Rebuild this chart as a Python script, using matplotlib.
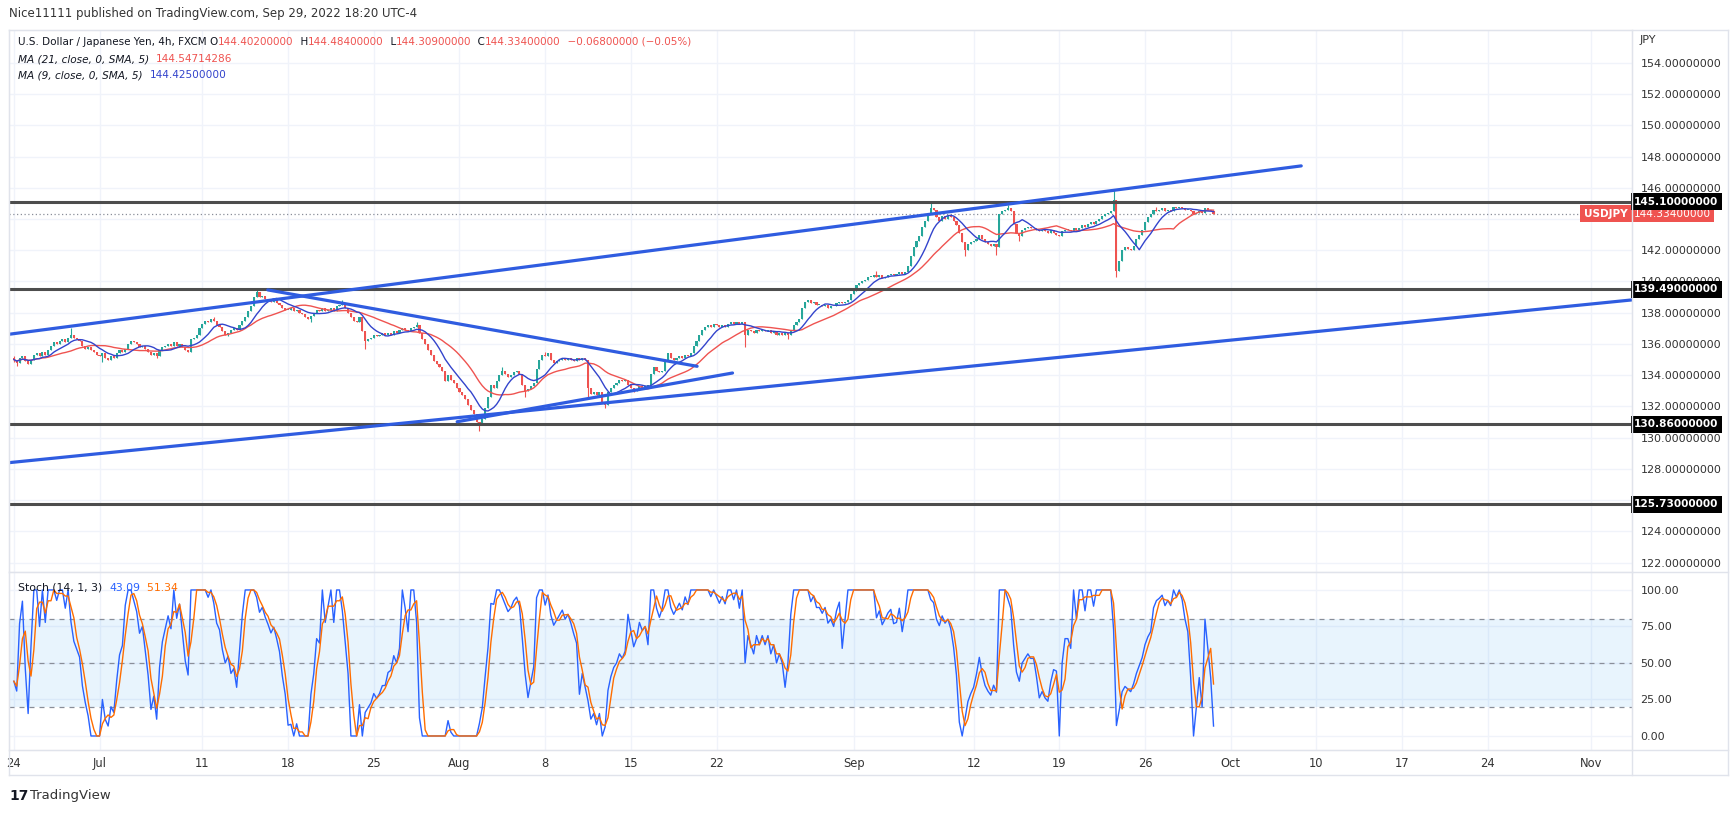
import numpy as np
import pandas as pd
import matplotlib
matplotlib.use('Agg')
import matplotlib.pyplot as plt
from matplotlib.lines import Line2D
from matplotlib.text import Annotation

# USDJPY 4h closes, one per bar (Jun 24 .. Sep 29 2022)
close = [
    135.0, 134.8, 135.1, 135.2, 134.9, 134.7, 135.0, 135.3, 135.4, 135.2,
    135.5, 135.3, 135.6, 135.9, 136.1, 136.0, 136.2, 136.3, 136.1, 136.4,
    136.6, 136.4, 136.3, 136.2, 135.9, 135.7, 135.8, 135.6, 135.5, 135.3,
    135.2, 135.4, 135.1, 135.0, 135.2, 135.1, 135.4, 135.6, 135.5, 135.7,
    136.0, 136.2, 136.1, 136.0, 135.8, 135.9, 135.7, 135.5, 135.3, 135.4,
    135.2, 135.6, 135.8, 135.9, 136.0, 135.9, 136.1, 135.9, 136.0, 135.8,
    135.6, 135.5, 136.3, 136.4, 136.6, 137.0, 137.3, 137.5, 137.4, 137.6,
    137.5, 137.2, 137.1, 136.8, 136.6, 136.7, 136.9, 137.0, 136.9, 137.2,
    137.5, 137.7, 138.1, 138.4, 139.0, 139.3, 139.0, 139.1, 138.9, 138.8,
    138.7, 138.8, 138.6, 138.5, 138.3, 138.2, 138.2, 138.3, 138.1, 138.2,
    138.0, 137.9, 137.7, 137.6, 137.8, 138.0, 138.2, 138.1, 138.3, 138.1,
    138.2, 138.3, 138.1, 138.4, 138.5, 138.6, 138.3, 138.0, 137.7, 137.5,
    137.4, 137.7, 136.8, 136.2, 136.3, 136.4, 136.6, 136.5, 136.6, 136.7,
    136.6, 136.7, 136.6, 136.8, 136.7, 136.9, 137.0, 136.9, 136.8, 137.0,
    137.1, 137.2, 136.7, 136.3, 136.0, 135.6, 135.3, 134.9, 134.7, 134.5,
    134.3, 133.6, 134.0, 133.7, 133.5, 133.2, 132.9, 132.7, 132.5, 132.1,
    131.8, 131.5, 131.0, 130.8, 131.2, 131.9, 132.6, 133.4, 133.2, 133.6,
    134.0, 134.3, 134.1, 133.9, 134.0, 134.2, 134.3, 134.1, 133.4, 133.0,
    133.1, 133.3, 133.5, 134.4, 135.0, 135.3, 135.2, 135.4, 135.0, 134.8,
    134.9, 135.0, 135.1, 135.0, 135.1, 135.0, 134.9, 135.1, 135.0, 135.1,
    135.0, 133.2, 132.8, 132.9, 132.7, 132.9, 132.3, 132.1, 132.9, 133.2,
    133.4, 133.5, 133.7, 133.6, 133.7, 133.4, 133.2, 133.0, 133.1, 133.3,
    133.2, 133.3, 133.4, 134.1, 134.5, 134.3, 134.2, 134.3, 134.9, 135.4,
    135.1, 135.0, 135.1, 135.2, 135.1, 135.3, 135.2, 135.4, 135.9, 136.2,
    136.6, 136.9, 137.1, 137.2, 137.1, 137.3, 137.2, 137.1, 137.2, 137.1,
    137.3, 137.4, 137.3, 137.4, 137.3, 137.4, 136.6, 136.9, 136.8, 136.7,
    136.9, 136.8, 136.9, 136.8, 136.9, 136.7, 136.8, 136.6, 136.7, 136.6,
    136.7, 136.6, 136.8, 137.2, 137.4, 137.6, 138.3, 138.7, 138.8, 138.6,
    138.7, 138.5, 138.5, 138.4, 138.5, 138.3, 138.4, 138.4, 138.6, 138.7,
    138.6, 138.7, 138.8, 139.2, 139.4, 139.8, 139.9, 140.0, 140.1, 140.3,
    140.3, 140.4, 140.3, 140.4, 140.2, 140.3, 140.4, 140.5, 140.4, 140.5,
    140.6, 140.5, 140.6, 141.0, 141.6, 142.2, 142.6, 142.9, 143.5, 143.9,
    144.3, 144.7, 144.6, 144.1, 143.9, 144.2, 144.0, 144.2, 144.1, 143.9,
    143.6, 143.1, 142.5, 142.0, 142.4, 142.5, 142.6, 142.7, 143.0, 142.7,
    142.5, 142.4, 142.3, 142.4, 142.2, 144.3, 144.5, 144.6, 144.7, 144.5,
    143.7, 143.1, 142.9, 143.3, 143.4, 143.5, 143.4, 143.4, 143.3, 143.2,
    143.3, 143.2, 143.1, 143.3, 143.1, 143.0, 142.9, 143.2, 143.3, 143.3,
    143.2, 143.4, 143.3, 143.4, 143.6, 143.5, 143.7, 143.8, 143.7, 143.9,
    144.0, 144.2, 144.3, 144.4, 144.5, 145.2, 140.7, 141.3, 142.0, 142.2,
    142.1, 142.0, 142.3, 142.7, 143.0, 143.3, 143.8, 144.1, 144.3, 144.6,
    144.5, 144.6, 144.7, 144.5, 144.6, 144.5, 144.8, 144.7, 144.8, 144.7,
    144.6, 144.6, 144.5, 144.3, 144.4, 144.5, 144.4, 144.7, 144.6, 144.5,
    144.334,
]
first_open = 135.1

# visible wicks (bar index -> price)
wick_hi = {0: 135.25, 20: 137.05, 70: 137.7, 85: 139.45, 115: 138.8, 141: 137.4,
           171: 134.5, 186: 135.5, 302: 140.7, 321: 145.0, 348: 144.9, 385: 145.9,
           400: 144.8}
wick_lo = {0: 134.85, 1: 134.6, 31: 134.85, 50: 135.07, 75: 136.5, 104: 137.4,
           123: 135.7, 163: 130.45, 179: 132.6, 201: 132.5, 207: 131.9, 217: 132.9,
           256: 135.8, 271: 136.3, 333: 141.6, 344: 141.7, 352: 142.6, 386: 140.3}

levels = [145.10, 139.49, 130.86, 125.73]
last_price = 144.334

# drawn trend lines: (bar index, price) pairs
trend_lines = [
    [(-1.7, 136.62), (450.7, 147.40)],
    [(-1.7, 128.40), (566.5, 138.82)],
    [(88.9, 139.46), (239.2, 134.57)],
    [(155.2, 131.02), (251.6, 134.14)],
]

date_labels = ['24', 'Jul', '11', '18', '25', 'Aug', '8', '15', '22', 'Sep',
               '12', '19', '26', 'Oct', '10', '17', '24', 'Nov']
date_days = ['2022-06-24', '2022-07-01', '2022-07-11', '2022-07-18', '2022-07-25',
             '2022-08-01', '2022-08-08', '2022-08-15', '2022-08-22', '2022-09-01',
             '2022-09-12', '2022-09-19', '2022-09-26', '2022-10-03', '2022-10-10',
             '2022-10-17', '2022-10-24', '2022-11-01']
price_ticks = list(range(122, 156, 2))
hidden_ticks = [126, 144]   # covered by the price boxes on the chart
stoch_ticks = [0, 25, 50, 75, 100]

W, H = 1735, 814
UP, DOWN = '#26a69a', '#ef5350'
DARK = '#131722'
GRID = '#f0f3fa'
BORDER = '#e0e3eb'

# ---- series
c = np.array(close)
o = np.r_[first_open, c[:-1]]
h = np.maximum(o, c)
l = np.minimum(o, c)
for i, v in wick_hi.items():
    h[i] = v
for i, v in wick_lo.items():
    l[i] = v
x = np.arange(len(c))

ma21 = pd.Series(c).rolling(21, min_periods=1).mean()
ma9 = pd.Series(c).rolling(9, min_periods=1).mean()
hh = pd.Series(h).rolling(14, min_periods=1).max()
ll = pd.Series(l).rolling(14, min_periods=1).min()
k = (100 * (pd.Series(c) - ll) / (hh - ll)).fillna(50)
d = k.rolling(3, min_periods=1).mean()

date_pos = np.busday_count('2022-06-24', date_days) * 6


def rect(x0, y0, x1, y1):
    return [x0 / W, 1 - y1 / H, (x1 - x0) / W, (y1 - y0) / H]


fig = plt.figure(figsize=(W / 100, H / 100), dpi=100)
ax = fig.add_axes(rect(9, 30, 1632, 572))
ax2 = fig.add_axes(rect(9, 572, 1632, 750), sharex=ax)

for a in (ax, ax2):
    for s in a.spines.values():
        s.set_color(BORDER)
    a.yaxis.tick_right()
    a.grid(color=GRID, lw=1, zorder=0)
    a.set_axisbelow(True)

ax.set_xlim(-1.7, 566.5)
ax.set_ylim(121.4, 156.1)
ax.set_yticks(price_ticks, ['' if v in hidden_ticks else f'{v:.8f}' for v in price_ticks])
ax.tick_params(axis='y', length=0, pad=6, labelsize=8, labelcolor='#333')
ax.tick_params(axis='x', length=0, labelbottom=False)

# candles
cols = np.where(c >= o, UP, DOWN)
body_lo = np.minimum(o, c)
body_h = np.maximum(np.abs(c - o), 0.05)
ax.vlines(x, l, h, color=cols, lw=0.8, zorder=3)
ax.bar(x, body_h, bottom=body_lo, width=0.74, color=cols, lw=0, zorder=3.1)

ax.plot(x, ma21, color='#ef5350', lw=1, zorder=4)
ax.plot(x, ma9, color='#3344cc', lw=1, zorder=4.1)

ax.axhline(last_price, color='#8a8e99', lw=0.9, ls=(0, (1, 2)), zorder=2)
for lv in levels:
    ax.axhline(lv, color='#4d4d4d', lw=2.2, zorder=5)
for (x0, y0), (x1, y1) in trend_lines:
    ax.plot([x0, x1], [y0, y1], color='#2f5ce0', lw=2.3, zorder=6,
            solid_capstyle='round')

ytr = ax.get_yaxis_transform()
box = dict(boxstyle='square,pad=0.32', ec='none')
for lv in levels:
    ax.text(1.0012, lv, f'{lv:.8f}', transform=ytr, ha='left', va='center',
            color='white', fontsize=7.6, fontweight='bold', clip_on=False, zorder=10,
            bbox=dict(box, fc='black'))
ax.text(1.0012, last_price, f'{last_price:.8f}', transform=ytr, ha='left', va='center',
        color='white', fontsize=7.6, clip_on=False, zorder=9,
        bbox=dict(box, fc='#ef5350'))
ax.text(0.9972, last_price, 'USDJPY', transform=ytr, ha='right', va='center',
        color='white', fontsize=7.6, fontweight='bold', clip_on=False, zorder=9,
        bbox=dict(box, fc='#ef5350'))

# ---- stochastic pane
ax2.set_ylim(-9.6, 112.3)
ax2.axhspan(20, 80, color='#2196f3', alpha=0.1, lw=0, zorder=1)
for lv in (80, 50, 20):
    ax2.axhline(lv, color='#8a8e99', lw=0.9, ls=(0, (4, 4)), zorder=2)
ax2.plot(x, k, color='#2962ff', lw=1, zorder=4)
ax2.plot(x, d, color='#ff6d00', lw=1, zorder=4.1)
ax2.set_yticks(stoch_ticks, [f'{v:.2f}' for v in stoch_ticks])
ax2.set_xticks(date_pos, date_labels)
ax2.tick_params(axis='y', length=0, pad=6, labelsize=8, labelcolor='#333')
ax2.tick_params(axis='x', length=0, pad=5, labelsize=8.3, labelcolor='#333')


# ---- text rows built piece by piece
def chain(parts, px, py, size=8):
    s0, col0, st0 = parts[0]
    t = fig.text(px / W, 1 - py / H, s0, color=col0, fontsize=size, style=st0,
                 va='center', ha='left', zorder=20)
    for s, col, st in parts[1:]:
        t = fig.add_artist(Annotation(s, xy=(1, 0), xycoords=t, xytext=(0, 0),
                                      textcoords='offset points', color=col,
                                      fontsize=size, style=st, va='bottom',
                                      ha='left', zorder=20))
    return t


fig.text(9 / W, 1 - 14 / H, 'Nice11111 published on TradingView.com, Sep 29, 2022 18:20 UTC-4',
         fontsize=8.5, color='#333', va='center')
chain([('U.S. Dollar / Japanese Yen, 4h, FXCM ', DARK, 'normal'), ('O', DARK, 'normal'),
       ('144.40200000', DOWN, 'normal'), ('  H', DARK, 'normal'), ('144.48400000', DOWN, 'normal'),
       ('  L', DARK, 'normal'), ('144.30900000', DOWN, 'normal'), ('  C', DARK, 'normal'),
       ('144.33400000', DOWN, 'normal'), ('  \u22120.06800000 (\u22120.05%)', DOWN, 'normal')],
      18, 42, size=7.5)
chain([('MA (21, close, 0, SMA, 5)  ', DARK, 'italic'), ('144.54714286', DOWN, 'normal')], 18, 59,
      size=7.6)
chain([('MA (9, close, 0, SMA, 5)  ', DARK, 'italic'), ('144.42500000', '#3344cc', 'normal')], 18, 75,
      size=7.6)
chain([('Stoch (14, 1, 3)  ', DARK, 'normal'), ('43.09', '#2962ff', 'normal'),
       ('  51.34', '#ff6d00', 'normal')], 18, 588, size=7.8)
fig.text(1640 / W, 1 - 40 / H, 'JPY', fontsize=8, color='#333', va='center')
fig.text(9 / W, 1 - 796 / H, '17', fontsize=10, fontweight='heavy', color=DARK, va='center')
fig.text(30 / W, 1 - 796 / H, 'TradingView', fontsize=9.5, color='#333', va='center')

# outer frame and pane separators
for y in (30, 572, 750, 775):
    fig.add_artist(Line2D([9 / W, 1728 / W], [1 - y / H, 1 - y / H], color=BORDER, lw=1))
for xx in (9, 1632, 1728):
    fig.add_artist(Line2D([xx / W, xx / W], [1 - 30 / H, 1 - 775 / H], color=BORDER, lw=1))

fig.savefig('out.png', dpi=100, facecolor='white')
